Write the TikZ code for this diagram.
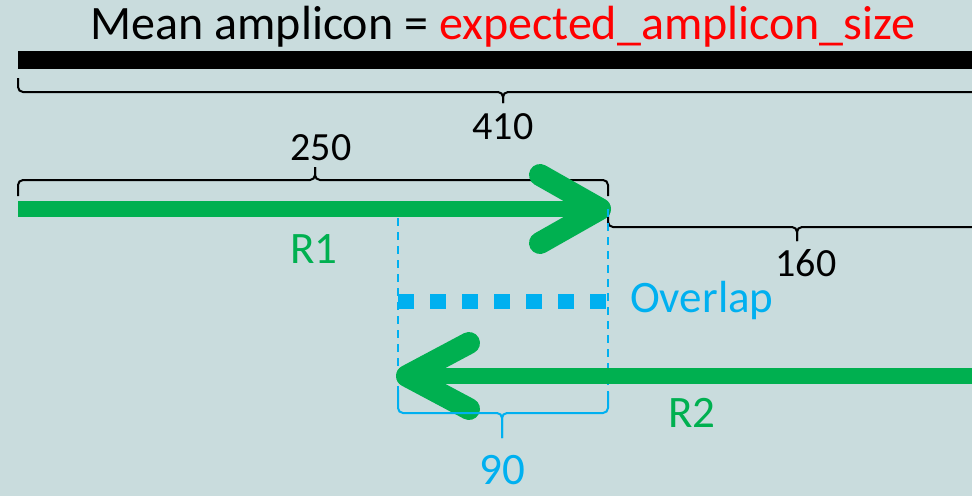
\documentclass[tikz,border=0pt]{standalone}
\usepackage{fontspec}
\setmainfont{Carlito}
\usepackage{xcolor}
\usepackage{tikz}
\usetikzlibrary{calc}
\definecolor{readgreen}{HTML}{00B050}
\definecolor{overlapblue}{HTML}{00B0F0}
\definecolor{sizered}{HTML}{FF0000}
\definecolor{panelbg}{HTML}{C9DCDD}

\begin{document}
\begin{tikzpicture}[
    x=1pt, y=-1pt,
    num/.style={font=\fontsize{40}{48}\selectfont, text=black, inner sep=0pt},
    lbl/.style={font=\fontsize{45}{54}\selectfont, inner sep=0pt},
    title/.style={font=\fontsize{48}{58}\selectfont, inner sep=0pt},
    brk/.style={line width=2pt, rounded corners=5pt},
    shaft/.style={line width=16pt, draw=readgreen},
    head/.style={line width=22pt, draw=readgreen, line cap=round, line join=round},
    guide/.style={overlapblue, line width=1.8pt, dash pattern=on 8pt off 6pt},
  ]
  \path[use as bounding box, fill=panelbg] (0,0) rectangle (972,496);
  \clip (0,0) rectangle (972,496);

  % key points
  \coordinate (ampL) at (18,60);
  \coordinate (ampR) at (990,60);
  \coordinate (r1s) at (18,209);
  \coordinate (r1e) at (600,209);
  \coordinate (r2s) at (990,376);
  \coordinate (r2e) at (407,376);
  \coordinate (ovL) at (398,301);
  \coordinate (ovR) at (606,301);

  \node[title] (ttl) at (503,27) {Mean amplicon = \textcolor{sizered}{expected\_amplicon\_size}};

  % amplicon bar and its brace
  \draw[line width=18pt] (ampL) -- (ampR);
  \draw[brk] (18,78) -- (18,92) -- (503,92) -- (503,103);
  \draw[brk] (990,78) -- (990,92) -- (503,92) -- (503,103);
  \node[num] (n410) at (503,127) {410};

  % read 1
  \draw[brk] (18,196) -- (18,180) -- (315,180) -- (315,167);
  \draw[brk] (608,196) -- (608,180) -- (315,180) -- (315,167);
  \node[num] (n250) at (321,148) {250};
  \draw[shaft] (r1s) -- ($(r1e)+(-8,0)$);
  \draw[head] ($(r1e)+(-60,-34)$) -- (r1e) -- ($(r1e)+(-60,34)$);
  \node[lbl, text=readgreen] (lr1) at (314,249) {R1};

  % remainder of amplicon
  \draw[brk] (608,211) -- (608,227) -- (797,227) -- (797,241);
  \draw[brk] (1000,211) -- (1000,227) -- (797,227) -- (797,241);
  \node[num] (n160) at (806,263) {160};

  % overlap guides
  \draw[guide] (398,218) -- (398,392);
  \draw[guide] (608,209) -- (608,396);
  \draw[overlapblue, line width=15pt, dash pattern=on 16pt off 16pt] (ovL) -- (ovR);
  \node[lbl, text=overlapblue, anchor=west] (lov) at (630,300) {Overlap};

  % read 2
  \draw[shaft] (r2s) -- ($(r2e)+(8,0)$);
  \draw[head] ($(r2e)+(62,-33)$) -- (r2e) -- ($(r2e)+(62,33)$);
  \node[lbl, text=readgreen] (lr2) at (692,413) {R2};

  \draw[brk, overlapblue] (398,390) -- (398,413) -- (502,413) -- (502,438);
  \draw[brk, overlapblue] (608,392) -- (608,413) -- (502,413) -- (502,438);
  \node[lbl, text=overlapblue] (n90) at (502,470) {90};
\end{tikzpicture}
\end{document}
